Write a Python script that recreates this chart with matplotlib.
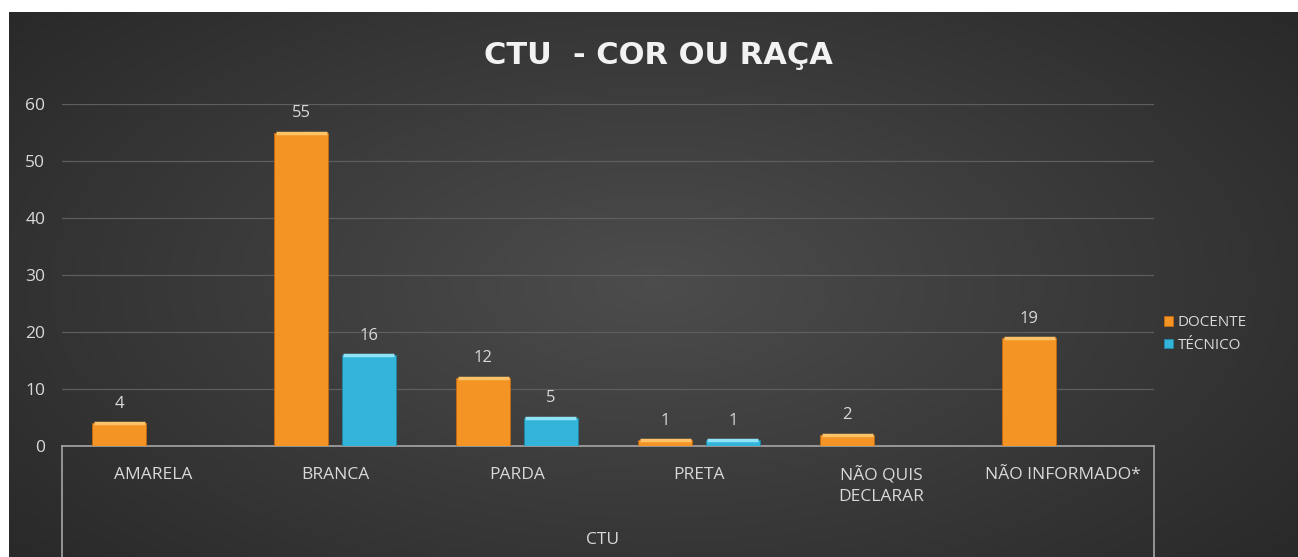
import matplotlib.pyplot as plt
import numpy as np

categories = ["AMARELA", "BRANCA", "PARDA", "PRETA", "NÃO QUIS\nDECLARAR", "NÃO INFORMADO*"]
docente = [4, 55, 12, 1, 2, 19]
tecnico = [0, 16, 5, 1, 0, 0]
series_names = ["DOCENTE", "TÉCNICO"]
title = "CTU  - COR OU RAÇA"
group_label = "CTU"
yticks = [0, 10, 20, 30, 40, 50, 60]

plt.rcParams["font.family"] = ["Open Sans", "DejaVu Sans"]
text_col = "#d9d9d9"
orange = "#f39425"
cyan = "#33b5da"

fig = plt.figure(figsize=(12.98, 5.57), dpi=100)
fig.patch.set_facecolor("white")

# dark radial gradient background
bg = fig.add_axes([9 / 1298, 0, 1 - 9 / 1298, 1 - 12 / 557])
yy, xx = np.mgrid[0:1:200j, 0:1:400j]
r = np.sqrt(((xx - 0.5) / 0.75) ** 2 + ((yy - 0.5) / 0.9) ** 2)
shade = np.clip(0.30 - 0.16 * r, 0.15, 0.30)
bg.imshow(np.dstack([shade] * 3), aspect="auto", extent=[0, 1, 0, 1], interpolation="bilinear")
bg.set_axis_off()

ax = fig.add_axes([62 / 1298, 1 - 446 / 557, 1092 / 1298, 342 / 557])
ax.set_facecolor("none")

x = np.arange(len(categories))
w = 0.30
off = 0.186
b1 = ax.bar(x - off, docente, w, color=orange, edgecolor="#c46a12", linewidth=0.6, zorder=3)
b2 = ax.bar(x + off, tecnico, w, color=cyan, edgecolor="#1f87a6", linewidth=0.6, zorder=3)

# lighter top edge for a bevel look
for bars, hi in ((b1, "#ffc266"), (b2, "#8fe3f7")):
    for b in bars:
        if b.get_height() > 0:
            ax.plot([b.get_x() + 0.01, b.get_x() + b.get_width() - 0.01],
                    [b.get_height(), b.get_height()], color=hi, lw=2.5, zorder=4,
                    solid_capstyle="butt")

for bars in (b1, b2):
    for b in bars:
        v = b.get_height()
        if v > 0:
            ax.annotate(str(int(v)), (b.get_x() + b.get_width() / 2, v),
                        xytext=(0, 8), textcoords="offset points",
                        ha="center", va="bottom", color=text_col, fontsize=12)

ax.set_xlim(-0.5, len(categories) - 0.5)
ax.set_ylim(0, 60)
ax.set_yticks(yticks)
ax.yaxis.grid(True, color="#5e5e5e", linewidth=0.9, zorder=0)
ax.set_axisbelow(True)
ax.tick_params(axis="y", length=0, pad=12, labelcolor=text_col, labelsize=12.5)
ax.set_xticks(x)
ax.set_xticklabels(categories, color=text_col, fontsize=12.5, va="top", linespacing=1.35)
ax.tick_params(axis="x", length=0, pad=15)
for s in ["top", "right", "left"]:
    ax.spines[s].set_visible(False)
ax.spines["bottom"].set_color("#a6a6a6")
ax.spines["bottom"].set_linewidth(1.2)

# multi-level category frame
ax.plot([0, 0], [0, -0.33], transform=ax.transAxes, clip_on=False, color="#a6a6a6", lw=1.2)
ax.plot([1, 1], [0, -0.33], transform=ax.transAxes, clip_on=False, color="#a6a6a6", lw=1.2)
ax.text(0.495, -0.275, group_label, transform=ax.transAxes, ha="center", va="center",
        color=text_col, fontsize=12.5)

fig.text(0.507, 1 - 55 / 557, title, ha="center", va="center", color="#f2f2f2",
         fontsize=22, fontweight="bold", family=["DejaVu Sans"])

leg = fig.legend([b1, b2], series_names, loc="center left",
                 bbox_to_anchor=(1150 / 1298, 1 - 334 / 557), frameon=False,
                 handlelength=0.6, handleheight=0.6, handletextpad=0.3,
                 labelspacing=0.5, fontsize=11)
for t in leg.get_texts():
    t.set_color(text_col)

fig.savefig("out.png", dpi=100)
